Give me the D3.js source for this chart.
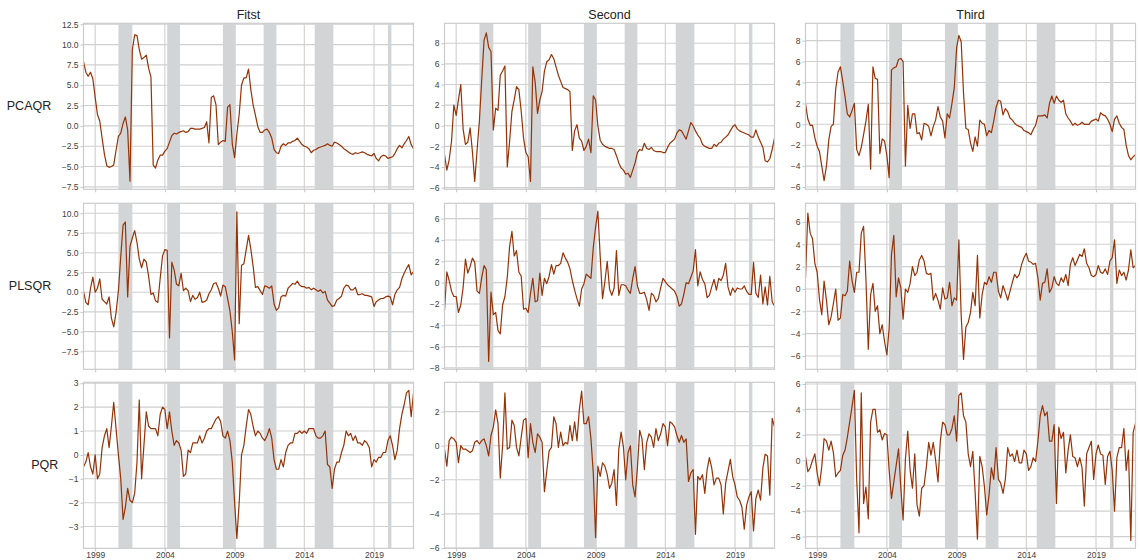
<!DOCTYPE html>
<html>
<head>
<meta charset="utf-8">
<script src="https://cdn.jsdelivr.net/npm/d3@7"></script>
<style>
  body { margin: 0; background: #fff; }
  svg { display: block; }
</style>
</head>
<body>
<div id="figure"></div>
<script>
// Bi-monthly observations, Feb 1998 .. Dec 2021.
const dates = d3.timeMonth.every(2).range(new Date(1998, 1, 1), new Date(2022, 0, 1));

const colTitles = ["Fitst", "Second", "Third"];
const rowLabels = ["PCAQR", "PLSQR", "PQR"];
const tickYears = [1999, 2004, 2009, 2014, 2019];

// Shaded periods (start month, end month).
const bands = [
  ["2000-09", "2001-09"], ["2004-03", "2005-02"], ["2008-03", "2009-02"],
  ["2011-02", "2012-01"], ["2014-10", "2016-02"], ["2020-01", "2020-04"]
];

const pcaqrFirst = [7.9,6.6,6.1,6.6,5.8,3.5,1.4,0.6,-1.5,-3.5,
  -4.9,-5.1,-5.0,-4.8,-3.0,-1.3,-0.9,0.3,1.1,-0.5,
  -6.8,9.4,11.2,11.1,9.4,8.2,8.4,8.7,7.1,6.0,
  -4.8,-5.2,-4.2,-3.6,-3.6,-3.1,-2.8,-2.0,-1.2,-0.9,
  -1.0,-0.8,-0.7,-0.6,-0.8,-0.7,-0.3,-0.3,-0.4,-0.4,
  -0.4,-0.3,-0.2,0.5,-2.1,3.5,3.7,2.6,-2.3,-2.0,
  -1.8,-1.9,2.3,2.6,-2.2,-3.9,-1.0,1.4,5.0,5.9,
  5.9,7.0,4.5,2.6,1.3,-0.1,-0.8,-0.8,-0.5,-0.4,
  -0.8,-1.5,-2.9,-3.3,-3.4,-2.5,-2.2,-2.4,-2.1,-2.1,
  -1.9,-1.8,-1.5,-1.9,-2.3,-2.5,-2.6,-2.8,-3.3,-3.0,
  -2.9,-2.7,-2.6,-2.5,-2.4,-2.2,-2.4,-2.5,-2.0,-2.1,
  -2.3,-2.5,-2.8,-3.0,-3.2,-3.4,-3.5,-3.3,-3.4,-3.3,
  -3.2,-3.3,-3.5,-3.6,-3.7,-3.4,-4.0,-4.3,-3.8,-3.6,
  -3.7,-4.0,-3.9,-3.8,-3.4,-2.8,-2.4,-2.7,-2.2,-1.8,
  -1.3,-2.3,-2.8,-3.3];

const pcaqrSecond = [-2.8,-4.3,-3.3,-1.5,2.0,1.0,2.5,4.0,-0.3,-1.8,
  -1.6,-0.2,-2.5,-5.4,-2.4,0.5,4.5,8.3,9.0,7.6,
  7.2,-0.4,1.7,1.5,4.9,5.3,5.8,-4.0,-1.5,1.4,
  2.5,3.8,3.5,1.4,-1.2,-2.6,-3.0,-5.4,5.7,4.2,
  1.2,2.5,3.3,5.3,6.2,6.4,6.9,6.5,5.7,4.9,
  4.3,3.7,3.6,3.5,3.3,-2.4,-0.5,0.1,-1.2,-1.5,
  -2.4,-2.0,-1.3,-2.6,2.9,2.5,0.0,-1.4,-1.8,-2.0,
  -2.1,-2.2,-2.2,-2.3,-2.9,-3.6,-4.1,-4.3,-4.7,-4.6,
  -5.0,-4.3,-3.6,-2.6,-2.3,-2.4,-1.7,-2.2,-2.3,-2.1,
  -2.4,-2.5,-2.5,-2.5,-2.6,-2.6,-2.1,-1.7,-1.5,-1.3,
  -0.7,-0.4,-0.5,-0.9,-1.3,-0.5,0.3,0.0,-0.5,-0.9,
  -1.2,-1.8,-2.0,-2.1,-2.2,-2.2,-1.8,-2.0,-1.7,-1.6,
  -1.3,-1.1,-0.9,-0.5,-0.1,0.1,-0.3,-0.5,-0.6,-0.7,
  -0.8,-0.9,-1.1,-1.1,-0.4,-1.1,-1.6,-2.1,-3.4,-3.5,
  -3.2,-2.3,-1.2,0.0];

const pcaqrThird = [2.0,0.5,-0.1,-0.1,-1.3,-2.1,-2.6,-4.0,-5.4,-4.0,
  -1.5,-0.2,0.0,3.4,5.0,5.5,4.1,2.6,1.0,0.7,
  1.3,2.0,-2.4,-3.0,-2.2,-1.0,0.3,1.9,-4.3,5.5,
  4.4,4.3,-2.8,-1.4,-1.6,-3.0,-5.1,5.2,5.4,5.5,
  6.2,6.3,6.0,-4.0,1.8,-0.4,1.0,1.0,-0.9,-0.8,
  -1.5,0.1,0.0,-0.2,-1.1,-0.2,0.4,1.7,0.7,0.3,
  -1.3,1.0,0.6,2.0,3.5,7.3,8.5,7.9,3.0,-0.4,
  -0.5,-1.8,-2.6,-1.2,-2.1,0.4,0.1,0.0,-1.1,-0.6,
  -0.8,0.3,1.6,2.3,2.2,0.9,1.5,1.2,0.6,0.4,
  0.1,-0.1,-0.2,-0.3,-0.6,-0.7,-0.8,-1.0,-0.5,-0.1,
  0.8,0.8,0.8,0.9,0.6,2.0,2.7,2.0,2.7,2.3,
  2.1,2.3,1.0,0.6,0.3,-0.1,0.1,-0.1,0.0,0.2,
  0.0,0.0,0.0,0.3,0.4,0.5,0.3,1.1,0.9,0.8,
  0.5,0.0,-0.7,0.5,0.8,0.1,-0.3,-0.5,-2.0,-3.0,
  -3.4,-3.1,-2.9,-3.0];

const plsqrFirst = [0.1,-1.3,-1.6,0.5,1.9,0.0,0.5,1.7,-0.9,-1.2,
  -1.5,-0.6,-3.3,-4.4,-2.6,0.2,4.5,8.5,8.9,-0.6,
  5.8,6.9,7.8,6.3,4.2,3.1,4.2,3.8,2.0,-0.3,
  -0.1,-1.1,-1.3,1.8,4.6,5.4,5.3,-5.8,3.8,2.8,
  1.0,0.8,2.4,0.2,0.5,0.2,-1.2,-0.4,-0.9,-0.7,
  0.0,-1.3,-1.2,-1.0,-0.2,0.3,1.1,1.2,0.5,-0.5,
  0.9,0.7,-0.8,-2.4,-5.0,-8.6,10.2,-4.0,3.4,3.6,
  5.4,7.2,5.5,3.3,0.6,0.7,0.2,-0.3,0.8,0.7,
  0.5,0.8,-1.5,-2.3,-2.0,-0.6,-0.4,-0.5,0.5,0.8,
  1.1,1.0,1.4,0.9,0.7,0.7,0.5,0.6,0.3,0.5,
  0.3,0.1,0.3,-0.1,0.1,-1.0,-1.4,-1.8,-1.7,-1.0,
  -0.8,-0.5,0.5,0.9,0.8,0.3,0.3,0.6,-0.3,-0.3,
  -0.2,-0.4,-0.4,-0.5,-0.6,-1.8,-1.2,-1.0,-0.8,-0.8,
  -0.6,-0.5,-0.6,-1.6,-0.3,0.3,0.6,1.7,2.4,3.0,
  3.5,2.2,2.6,0.6];

const plsqrSecond = [-2.6,1.0,0.2,-0.8,-1.3,-1.3,-2.8,-2.1,-0.5,2.2,
  0.9,1.5,2.3,1.9,-0.8,-1.0,0.5,1.6,1.2,-7.4,
  -0.9,-3.0,-2.8,-4.5,-4.8,-2.1,-1.3,0.5,3.4,4.8,
  2.5,3.0,1.0,0.6,-2.5,-2.4,-2.8,-1.0,0.4,-1.8,
  -1.7,0.9,-1.2,0.4,-0.1,0.6,1.7,0.8,1.6,1.6,
  1.8,2.8,2.3,1.9,1.3,0.2,-0.7,-1.5,-2.2,-0.6,
  -0.1,0.8,0.6,0.4,3.3,5.2,6.7,2.5,-1.5,0.1,
  2.0,-0.6,-1.2,-0.5,3.0,-1.2,-0.2,-0.2,-0.3,-0.7,
  -1.0,0.4,1.5,-0.3,-1.0,-1.0,-0.9,-1.6,-2.6,-1.0,
  -1.2,-1.8,-1.5,-0.5,0.4,0.1,-0.2,-0.4,-0.6,-0.8,
  -1.3,-2.2,-2.0,-1.1,0.0,-0.1,0.5,1.1,3.1,-0.3,
  1.0,0.3,-0.1,-1.4,-1.2,-0.4,0.3,-0.7,0.4,0.2,
  0.7,1.8,-0.4,-1.2,-0.5,-0.9,-0.5,-0.6,-0.6,-0.3,
  -0.8,-1.1,-1.1,1.9,-1.0,-1.4,0.7,-2.0,-0.4,-2.1,
  0.6,-1.8,-2.2,-1.7];

const plsqrThird = [1.0,6.8,5.0,4.5,2.3,1.5,-0.9,-2.3,0.7,-1.0,
  -3.2,-2.5,-1.3,0.0,-2.8,-2.6,-0.5,-0.6,-0.2,2.5,
  0.8,-0.3,1.5,1.5,5.0,5.6,0.9,-5.4,-0.5,0.5,
  -2.0,-1.5,-4.0,-3.2,-4.7,-5.9,-3.5,3.1,4.8,-0.7,
  1.0,0.1,-2.7,0.0,-0.3,0.5,2.0,1.2,1.5,2.6,
  3.0,2.5,1.4,1.3,1.4,-1.0,-0.4,-1.0,-1.8,0.1,
  -0.9,-0.8,0.6,-1.5,-0.8,-1.0,4.4,-2.4,-6.3,-3.4,
  -3.0,-2.1,-0.3,-1.5,3.0,-2.6,-0.5,0.6,0.4,1.1,
  0.6,1.5,1.5,-0.2,-0.8,0.3,-0.3,-1.0,-0.2,0.6,
  1.3,1.0,1.3,2.2,2.8,3.2,2.5,2.4,2.2,2.3,
  1.0,-1.0,0.5,0.6,1.8,-0.3,0.1,1.1,0.5,0.3,
  1.0,0.6,1.3,0.3,2.2,2.8,2.1,2.6,3.1,2.9,
  3.6,2.3,1.9,1.2,1.1,1.3,2.1,1.5,1.4,1.8,
  1.3,2.5,2.8,4.4,0.5,1.7,1.2,1.5,0.8,1.7,
  3.5,1.9,2.1,2.6];

const pqrFirst = [-0.5,-0.3,0.1,-0.5,-0.8,0.0,-1.0,-0.8,0.3,0.8,
  1.1,0.3,1.2,2.2,1.1,0.0,-1.0,-2.7,-2.2,-1.4,
  -1.9,-2.0,-1.6,-0.3,2.3,-1.0,0.4,1.8,1.2,1.1,
  1.1,1.1,0.8,1.7,2.0,1.9,1.1,1.8,1.0,0.4,
  0.6,0.5,0.2,-0.9,-0.8,0.2,0.1,0.5,0.5,0.5,
  0.8,0.5,0.7,1.0,1.1,1.1,1.3,1.5,1.6,1.4,
  0.8,0.7,1.0,0.6,-0.3,-2.0,-3.5,-2.0,0.0,0.4,
  1.2,1.9,1.7,1.2,0.8,1.0,0.9,0.7,0.6,0.8,
  1.1,0.7,-0.2,-0.6,-0.6,-0.2,-0.5,0.1,0.4,0.5,
  0.5,0.9,0.9,1.0,0.9,1.0,0.9,1.1,1.1,1.1,
  0.8,0.7,0.7,0.8,1.0,-0.4,-0.5,-1.4,-0.6,-0.3,
  -0.3,0.1,0.4,1.0,0.8,0.9,0.6,0.8,0.5,0.5,
  0.4,0.6,0.5,0.3,-0.5,-0.2,-0.3,-0.1,-0.1,0.1,
  0.1,0.6,0.8,0.4,-0.2,0.2,1.1,1.7,2.1,2.6,
  2.7,1.6,2.6,1.4];

const pqrSecond = [-0.2,-1.2,0.3,0.5,0.4,0.2,-1.0,0.0,-0.2,-0.2,
  -0.3,-0.4,-0.3,0.2,0.3,0.1,0.3,0.4,0.0,-0.6,
  0.6,1.1,2.1,1.3,-1.9,0.0,3.1,-0.2,-0.1,1.5,
  1.2,-0.1,-0.6,0.5,1.5,1.6,-0.7,1.3,0.2,-0.4,
  0.7,0.5,0.2,-2.7,-1.5,-0.3,-0.1,1.7,1.3,-0.1,
  0.8,0.0,0.2,0.1,1.2,0.3,1.4,0.3,2.1,3.2,
  1.3,1.3,1.7,0.4,-1.6,-5.4,-1.2,-1.8,-1.0,-1.2,
  -1.7,-2.5,-2.2,-1.4,-3.5,-0.2,0.8,-0.1,-2.0,-0.4,
  0.0,-2.3,-3.0,-1.3,0.9,0.4,-1.4,0.2,0.7,0.5,
  -0.1,1.0,0.3,0.7,1.3,1.1,0.0,1.4,1.3,1.1,
  0.6,0.2,0.6,0.2,0.4,-2.1,-1.6,-1.4,-5.2,-1.8,
  -2.0,-1.7,-2.8,-1.4,-0.7,-1.3,-2.3,-1.9,-1.9,-2.3,
  -4.0,-2.2,-1.5,-0.8,-1.8,-2.3,-3.0,-3.2,-3.6,-4.9,
  -3.5,-3.0,-2.7,-5.0,-3.1,-2.6,-3.2,-1.3,-0.5,-0.6,
  -2.9,1.6,1.1,0.6];

const pqrThird = [0.3,-0.9,-0.6,0.0,0.5,-1.0,-2.0,-0.5,1.7,1.5,
  0.8,1.5,0.6,-1.3,-1.0,-0.8,0.4,0.8,1.8,3.0,
  4.2,5.5,-1.5,-5.7,5.3,-3.4,-2.1,-4.6,3.0,4.0,
  4.0,2.2,2.4,1.6,2.1,2.0,-0.8,-3.0,-1.7,-0.4,
  0.9,-2.2,-4.7,0.1,2.3,-0.8,-2.2,0.5,-3.5,-4.4,
  -2.2,-2.0,-0.5,1.4,0.4,1.4,0.0,-1.7,1.5,3.0,
  2.8,2.0,2.0,2.5,3.5,1.5,5.1,5.3,3.5,3.0,
  0.5,-0.5,0.7,-2.5,-6.2,0.3,-0.5,-2.1,-4.3,-2.7,
  -0.6,-1.5,1.0,-1.5,-1.8,-2.6,-1.5,1.0,0.3,0.5,
  -0.1,0.8,-0.2,-0.2,0.8,0.5,-0.8,-0.5,0.2,-0.1,
  1.5,3.5,4.3,3.5,3.8,1.5,1.5,2.8,-3.4,2.6,
  1.7,2.2,-1.0,0.8,2.0,0.3,0.2,-0.5,0.2,-0.6,
  -3.6,0.5,1.0,1.5,-1.5,0.5,1.2,0.5,0.4,-1.9,
  0.3,0.7,-0.8,-4.0,0.2,1.0,1.0,2.5,-0.8,0.8,
  -6.3,2.2,2.9,3.0];

const series = [
  [pcaqrFirst, pcaqrSecond, pcaqrThird],
  [plsqrFirst, plsqrSecond, plsqrThird],
  [pqrFirst, pqrSecond, pqrThird]
];

// y limits and tick values of every panel
const yDomains = [
  [[-7.8, 12.62], [-6.16, 9.93], [-6.22, 9.66]],
  [[-9.78, 11.27], [-8.13, 7.44], [-7.19, 7.67]],
  [[-3.91, 3.04], [-6.02, 3.72], [-6.92, 6.13]]
];
const yTicks = [
  [[-7.5, -5, -2.5, 0, 2.5, 5, 7.5, 10, 12.5], [-6, -4, -2, 0, 2, 4, 6, 8], [-6, -4, -2, 0, 2, 4, 6, 8]],
  [[-7.5, -5, -2.5, 0, 2.5, 5, 7.5, 10], [-8, -6, -4, -2, 0, 2, 4, 6], [-6, -4, -2, 0, 2, 4, 6]],
  [[-3, -2, -1, 0, 1, 2, 3], [-6, -4, -2, 0, 2], [-6, -4, -2, 0, 2, 4, 6]]
];
const yFormats = [[".1f", "d", "d"], [".1f", "d", "d"], ["d", "d", "d"]];

const width = 1140,
      height = 560;
const colLeft = [83.5, 444.5, 805.5],
      rowTop = [23.3, 203.3, 382.3],
      panelW = 330,
      panelH = 166;
const lineColor = "#943307",
      gridColor = "#cfcfcf",
      bandColor = "#d3d4d6",
      textColor = "#404040";

const svg = d3.select("#figure").append("svg")
    .attr("width", width)
    .attr("height", height)
    .style("font-family", '"Liberation Sans", Arial, sans-serif');

svg.append("rect")
    .attr("width", width)
    .attr("height", height)
    .attr("fill", "#fff");

const parseMonth = d3.timeParse("%Y-%m");
const yearDates = tickYears.map(y => new Date(y, 0, 1));

const x = d3.scaleTime()
    .domain(d3.extent(dates))
    .range([0, panelW]);

const minus = s => s.replace("-", "\u2212");

function styleAxis(g) {
  g.attr("font-size", null).attr("font-family", null);
  g.select(".domain").remove();
  g.selectAll(".tick line").attr("stroke", "#c4c4c4");
  g.selectAll(".tick text")
      .attr("fill", textColor)
      .style("font-size", "8.5px");
}

series.forEach((row, r) => row.forEach((values, c) => {
  const g = svg.append("g")
      .attr("transform", `translate(${colLeft[c]},${rowTop[r]})`);

  const y = d3.scaleLinear()
      .domain(yDomains[r][c])
      .range([panelH, 0]);

  // Grid.
  g.append("g")
      .attr("stroke", gridColor)
      .attr("stroke-width", 1.1)
      .call(gg => gg.selectAll(".h")
        .data(yTicks[r][c])
        .join("line")
          .attr("x1", 0)
          .attr("x2", panelW)
          .attr("y1", d => y(d))
          .attr("y2", d => y(d)))
      .call(gg => gg.selectAll(".v")
        .data(yearDates)
        .join("line")
          .attr("x1", d => x(d))
          .attr("x2", d => x(d))
          .attr("y1", 0)
          .attr("y2", panelH));

  // Shaded periods.
  g.append("g")
      .selectAll("rect")
      .data(bands)
      .join("rect")
        .attr("x", d => x(parseMonth(d[0])))
        .attr("width", d => x(parseMonth(d[1])) - x(parseMonth(d[0])))
        .attr("y", 0)
        .attr("height", panelH)
        .attr("fill", bandColor);

  // Series.
  const line = d3.line()
      .x(d => x(d[0]))
      .y(d => y(d[1]));

  g.append("path")
      .datum(values.map((v, i) => [dates[i], v]).filter(d => d[0]))
      .attr("fill", "none")
      .attr("stroke", lineColor)
      .attr("stroke-width", 1.2)
      .attr("stroke-linejoin", "round")
      .attr("d", line);

  // Frame.
  g.append("rect")
      .attr("width", panelW)
      .attr("height", panelH)
      .attr("fill", "none")
      .attr("stroke", "#cbcbcb")
      .attr("stroke-width", 1.2);

  // Axes.
  const fmt = d3.format(yFormats[r][c]);
  const yAxis = g.append("g")
      .call(d3.axisLeft(y)
        .tickValues(yTicks[r][c])
        .tickSize(3)
        .tickPadding(2)
        .tickFormat(d => minus(fmt(d))))
      .call(styleAxis);

  g.append("g")
      .attr("transform", `translate(0,${panelH})`)
      .call(d3.axisBottom(x)
        .tickValues(yearDates)
        .tickSize(3)
        .tickPadding(1)
        .tickFormat(r === 2 ? d3.timeFormat("%Y") : () => ""))
      .call(styleAxis);

  if (r === 0) {
    g.append("text")
        .attr("x", panelW / 2)
        .attr("y", -4.5)
        .attr("text-anchor", "middle")
        .attr("fill", "#222")
        .style("font-size", "12.5px")
        .text(colTitles[c]);
  }

  if (c === 0) {
    const left = d3.min(yAxis.selectAll(".tick text").nodes(), n => n.getBBox().x);
    g.append("text")
        .attr("x", left - 10.5)
        .attr("y", panelH / 2)
        .attr("text-anchor", "end")
        .attr("dominant-baseline", "central")
        .attr("fill", "#222")
        .style("font-size", "12.5px")
        .text(rowLabels[r]);
  }
}));
</script>
</body>
</html>
